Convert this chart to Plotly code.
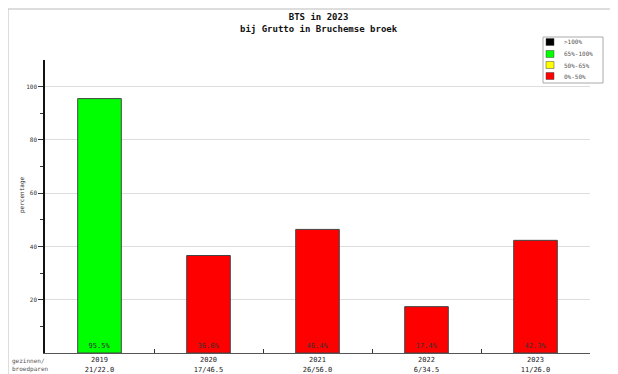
import plotly.graph_objects as go

years = ["2019", "2020", "2021", "2022", "2023"]
ratios = ["21/22.0", "17/46.5", "26/56.0", "6/34.5", "11/26.0"]
values = [95.5, 36.6, 46.4, 17.4, 42.3]
bar_colors = ["#00ff00", "#ff0000", "#ff0000", "#ff0000", "#ff0000"]
legend_labels = [">100%", "65%-100%", "50%-65%", "0%-50%"]
legend_colors = ["#000000", "#00ff00", "#ffff00", "#ff0000"]
y_ticks = [20, 40, 60, 80, 100]
y_minor = [10, 30, 50, 70, 90]

OFF = 8  # page body margin
W, H = 618 - OFF, 374 - OFF
L, R, T, B = 45 - OFF, 28, 60 - OFF, 21
PW, PH = W - L - R, H - T - B


def px(x):
    return (x - OFF - L) / PW


def py(y):
    return (H - B - (y - OFF)) / PH


FONT = "DejaVu Sans Mono"
cats = [f"{y}<br>{r}" for y, r in zip(years, ratios)]

fig = go.Figure()
fig.add_trace(go.Bar(
    x=cats, y=values,
    marker=dict(color=bar_colors, line=dict(color="#444444", width=1)),
    width=0.4,
    text=[f"{v:.1f}%" for v in values],
    textposition="inside", insidetextanchor="start",
    textangle=0,
    textfont=dict(family=FONT, size=7, color="#333333"),
    showlegend=False, hoverinfo="skip",
))

shapes = []
annotations = []
# frame lines
shapes.append(dict(type="line", xref="paper", yref="paper", x0=px(8), x1=px(618), y0=py(9), y1=py(9),
                   line=dict(color="#bbbbbb", width=1)))
shapes.append(dict(type="line", xref="paper", yref="paper", x0=px(8), x1=px(8), y0=py(9), y1=py(374),
                   line=dict(color="#bbbbbb", width=1)))
# legend box
shapes.append(dict(type="rect", xref="paper", yref="paper", x0=px(543), x1=px(603), y0=py(83), y1=py(37),
                   line=dict(color="#aaaaaa", width=1), fillcolor="white"))
rows = [42, 54, 65, 76]
for c, lab, yc in zip(legend_colors, legend_labels, rows):
    shapes.append(dict(type="rect", xref="paper", yref="paper", x0=px(546), x1=px(554),
                       y0=py(yc + 3.5), y1=py(yc - 3.5), line=dict(color="#444444", width=0.5), fillcolor=c))
    annotations.append(dict(text=lab, xref="paper", yref="paper", x=px(562), y=py(yc),
                            xanchor="left", yanchor="middle", showarrow=False,
                            font=dict(family=FONT, size=6, color="#555555")))

annotations.append(dict(text="<b>BTS in 2023</b><br><b>bij Grutto in Bruchemse broek</b>",
                        xref="paper", yref="paper", x=px(319), y=py(23), xanchor="center", yanchor="middle",
                        showarrow=False, font=dict(family=FONT, size=9, color="#111111")))
annotations.append(dict(text="percentage", xref="paper", yref="paper", x=px(22), y=py(195),
                        textangle=-90, xanchor="center", yanchor="middle", showarrow=False,
                        font=dict(family=FONT, size=6, color="#333333")))
annotations.append(dict(text="gezinnen/<br>broedparen", xref="paper", yref="paper", x=px(11), y=py(374),
                        xanchor="left", yanchor="bottom", showarrow=False, align="left",
                        borderpad=0,
                        font=dict(family=FONT, size=6, color="#555555")))

fig.update_layout(
    width=W, height=H,
    margin=dict(l=L, r=R, t=T, b=B, autoexpand=False),
    paper_bgcolor="white", plot_bgcolor="white",
    bargap=0.6,
    shapes=shapes, annotations=annotations,
    font=dict(family=FONT, size=7, color="#222222"),
)
fig.update_xaxes(
    type="category", tickson="boundaries", ticks="inside", ticklen=4, tickcolor="#333333",
    showline=True, linecolor="#555555", linewidth=1,
    showgrid=False, automargin=False,
    tickfont=dict(family=FONT, size=7, color="#222222"),
    range=[-0.5, 4.5],
)
fig.update_yaxes(
    range=[0, 110], tickvals=y_ticks, ticks="outside", ticklen=5, tickcolor="#333333",
    showline=True, linecolor="#111111", linewidth=1.5,
    showgrid=True, gridcolor="#dddddd", gridwidth=1, zeroline=False,
    automargin=False,
    minor=dict(tickvals=y_minor, ticks="outside", ticklen=3, tickcolor="#333333", showgrid=False),
    tickfont=dict(family=FONT, size=6, color="#333333"),
)

fig.write_html("out.html")
